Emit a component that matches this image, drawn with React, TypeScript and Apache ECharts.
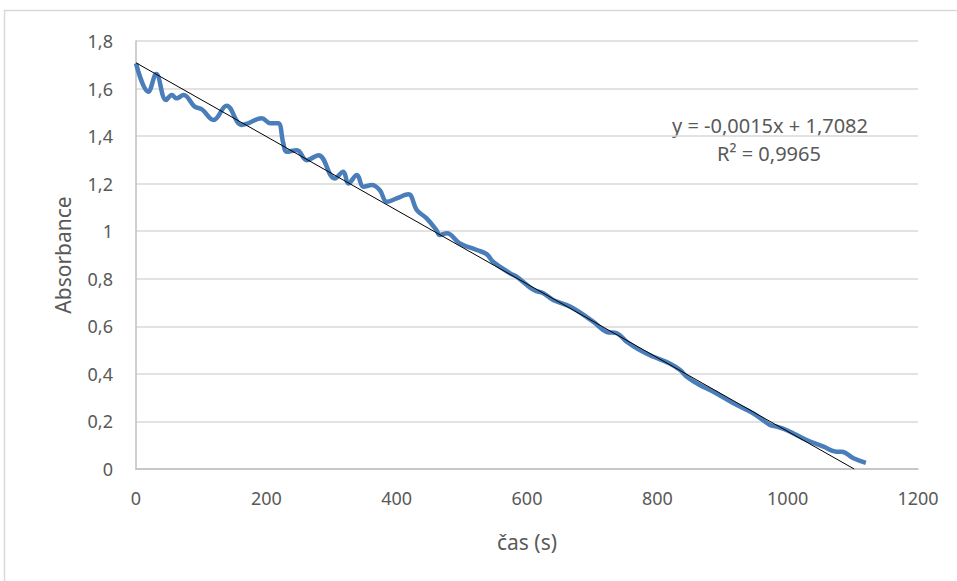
import React, { useEffect, useRef } from "react";
import * as echarts from "echarts";

const timeS = [
  0, 19, 31, 46, 55, 62, 73, 90, 101, 119, 139, 162, 172, 193, 206, 218, 226, 231, 247, 262,
  280, 305, 318, 326, 339, 349, 362, 374, 385, 400, 418, 431, 446, 461, 466, 477, 497, 523,
  538, 548, 574, 584, 610, 625, 640, 666, 702, 722, 738, 753, 773, 794, 819, 835, 845, 865,
  886, 917, 947, 973, 983, 998, 1029, 1055, 1075, 1083, 1101, 1120,
];
const absorbance = [
  1.706, 1.587, 1.661, 1.552, 1.573, 1.559, 1.573, 1.524, 1.513, 1.468, 1.528, 1.447, 1.454,
  1.475, 1.454, 1.454, 1.37, 1.334, 1.341, 1.299, 1.32, 1.222, 1.25, 1.201, 1.236, 1.187,
  1.194, 1.173, 1.124, 1.138, 1.155, 1.089, 1.054, 1.005, 0.984, 0.991, 0.949, 0.921, 0.904,
  0.872, 0.823, 0.809, 0.753, 0.739, 0.711, 0.683, 0.619, 0.577, 0.571, 0.535, 0.5, 0.472,
  0.444, 0.416, 0.388, 0.353, 0.325, 0.276, 0.234, 0.185, 0.178, 0.164, 0.122, 0.094, 0.073,
  0.073, 0.045, 0.026,
];

// trendline (actual fitted slope, shown rounded in the label)
const trendSlope = -0.00155;
const trendIntercept = 1.7082;
const equationText = "y = -0,0015x + 1,7082";
const r2Text = "R² = 0,9965";

const xAxisName = "čas (s)";
const yAxisName = "Absorbance";

const FONT = "'Noto Sans', 'Open Sans', sans-serif";

export default function App() {
  const ref = useRef<HTMLDivElement>(null);
  useEffect(() => {
    if (!ref.current) return;
    const chart = echarts.init(ref.current, undefined, { renderer: "svg" });
    const data = timeS.map((t, i) => [t, absorbance[i]]);
    const xEnd = -trendIntercept / trendSlope;
    const trend = [
      [0, trendIntercept],
      [xEnd, trendIntercept + trendSlope * xEnd],
    ];
    chart.setOption({
      animation: false,
      backgroundColor: "#ffffff",
      grid: { left: 136, right: 39, top: 41, bottom: 112 },
      xAxis: {
        type: "value",
        min: 0,
        max: 1200,
        interval: 200,
        name: xAxisName,
        nameLocation: "middle",
        nameGap: 62,
        nameTextStyle: { color: "#595959", fontSize: 21, fontFamily: FONT },
        axisLine: { show: true, lineStyle: { color: "#bfbfbf", width: 1.5 } },
        axisTick: { show: false },
        splitLine: { show: false },
        axisLabel: {
          color: "#595959",
          fontSize: 18,
          fontFamily: FONT,
          margin: 20,
          formatter: (v: number) => String(v),
        },
      },
      yAxis: {
        type: "value",
        min: 0,
        max: 1.8,
        interval: 0.2,
        name: yAxisName,
        nameLocation: "middle",
        nameGap: 63,
        nameTextStyle: { color: "#595959", fontSize: 21, fontFamily: FONT },
        axisLine: { show: true, lineStyle: { color: "#bfbfbf", width: 1.5 } },
        axisTick: { show: false },
        splitLine: { show: true, lineStyle: { color: "#d9d9d9", width: 1.5 } },
        axisLabel: {
          color: "#595959",
          fontSize: 18,
          fontFamily: FONT,
          margin: 23,
          formatter: (v: number) => String(Math.round(v * 10) / 10).replace(".", ","),
        },
      },
      graphic: [
        {
          type: "rect",
          shape: { x: 4.5, y: 10.5, width: 1000, height: 1000 },
          style: { fill: "none", stroke: "#d9d9d9", lineWidth: 1.5 },
          silent: true,
        },
        {
          type: "text",
          x: 770,
          y: 125,
          style: {
            text: equationText,
            fill: "#595959",
            font: `20px ${FONT}`,
            textAlign: "center",
            textVerticalAlign: "middle",
          },
        },
        {
          type: "text",
          x: 769,
          y: 153,
          style: {
            text: r2Text,
            fill: "#595959",
            font: `20px ${FONT}`,
            textAlign: "center",
            textVerticalAlign: "middle",
          },
        },
      ],
      series: [
        {
          type: "line",
          data,
          smooth: 0.4,
          symbol: "none",
          lineStyle: { color: "#4a7ebb", width: 4.5 },
          z: 2,
        },
        {
          type: "line",
          data: trend,
          symbol: "none",
          lineStyle: { color: "#000000", width: 1 },
          z: 3,
        },
      ],
    });
    return () => chart.dispose();
  }, []);
  return (
    <div
      ref={ref}
      style={{ position: "fixed", left: 0, top: 0, width: 957, height: 581 }}
    />
  );
}
